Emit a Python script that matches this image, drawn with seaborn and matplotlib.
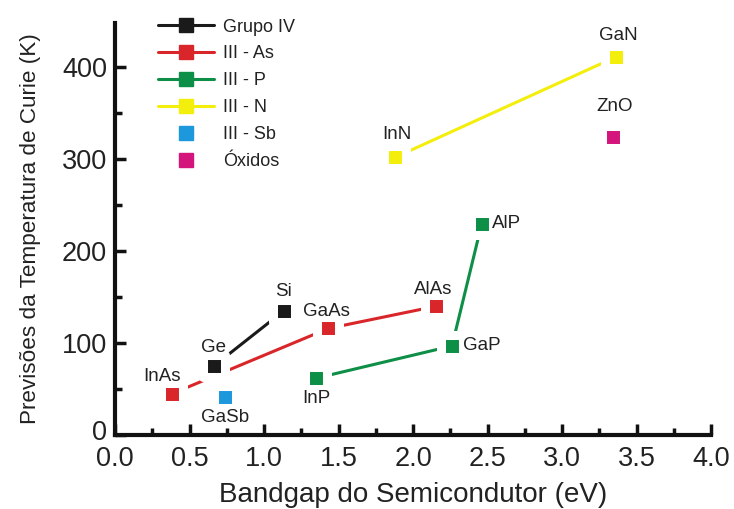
import numpy as np
import pandas as pd
import matplotlib
matplotlib.use('Agg')
import matplotlib.pyplot as plt
import matplotlib.transforms as mtransforms
import seaborn as sns
from matplotlib.lines import Line2D
from matplotlib.ticker import MultipleLocator

# data
materials = ['Ge', 'Si', 'InAs', 'GaAs', 'AlAs', 'InP', 'GaP', 'AlP', 'InN', 'GaN', 'GaSb', 'ZnO']
groups = ['Grupo IV', 'Grupo IV', 'III - As', 'III - As', 'III - As', 'III - P', 'III - P', 'III - P',
          'III - N', 'III - N', 'III - Sb', 'Óxidos']
bandgap = [0.66, 1.13, 0.38, 1.43, 2.15, 1.35, 2.26, 2.46, 1.88, 3.36, 0.74, 3.34]
curie = [75, 135, 45, 116, 140, 62, 97, 230, 302, 411, 42, 324]

group_order = ['Grupo IV', 'III - As', 'III - P', 'III - N', 'III - Sb', 'Óxidos']
group_colors = ['#1a1a1a', '#d9262a', '#0e8f47', '#f4ee0c', '#1e98dc', '#d4167c']
connected = ['Grupo IV', 'III - As', 'III - P', 'III - N']

df = pd.DataFrame({'material': materials, 'grupo': groups, 'eg': bandgap, 'tc': curie})

sns.set_style('ticks')
plt.rcParams['font.family'] = ['Liberation Sans', 'DejaVu Sans']

fig = plt.figure(figsize=(7.34, 5.09), dpi=100)
ax = fig.add_axes([0.157, 0.145, 0.812, 0.81])

palette = dict(zip(group_order, group_colors))
handles = []
for g in group_order:
    sub = df[df.grupo == g]
    if g in connected:
        sns.lineplot(data=sub, x='eg', y='tc', ax=ax, color=palette[g], lw=2.2,
                     sort=False, estimator=None, legend=False)
        h = Line2D([], [], color=palette[g], lw=2.2, marker='s', markersize=9.5)
    else:
        h = Line2D([], [], color=palette[g], lw=0, marker='s', markersize=9.5)
    # white edge leaves a small gap between line and marker, as in the original
    sns.scatterplot(data=sub, x='eg', y='tc', ax=ax, color=palette[g], marker='s',
                    s=250, edgecolor='white', linewidth=6.5, zorder=5, legend=False)
    handles.append(h)

# point labels (offsets in pixels)
offsets = {'InAs': (-10, 17, 'center'), 'Ge': (0, 19, 'center'), 'Si': (0, 19, 'center'),
           'GaSb': (0, -21, 'center'), 'GaAs': (-2, 17, 'center'), 'InP': (0, -20, 'center'),
           'AlAs': (-2, 17, 'center'), 'GaP': (11, 0, 'left'), 'AlP': (10, 0, 'left'),
           'InN': (2, 23, 'center'), 'GaN': (2, 21, 'center'), 'ZnO': (2, 31, 'center')}
for _, r in df.iterrows():
    dx, dy, ha = offsets[r.material]
    ax.annotate(r.material, (r.eg, r.tc), xytext=(dx, dy), textcoords='offset pixels',
                ha=ha, va='center', fontsize=13.5, color='#222222', zorder=6)

leg = ax.legend(handles, group_order, loc='upper left', bbox_to_anchor=(0.044, 1.05),
                frameon=False, fontsize=13, handlelength=3.1, labelspacing=0.55,
                handletextpad=0.5)
for t in leg.get_texts():
    t.set_color('#222222')

ax.set_xlim(0, 4.0)
ax.set_ylim(0, 448)
ax.xaxis.set_major_locator(MultipleLocator(0.5))
ax.xaxis.set_minor_locator(MultipleLocator(0.25))
ax.yaxis.set_major_locator(MultipleLocator(100))
ax.yaxis.set_minor_locator(MultipleLocator(50))
ax.xaxis.set_major_formatter(matplotlib.ticker.FormatStrFormatter('%.1f'))
ax.tick_params(which='both', direction='in', width=2.5, labelsize=19.5, color='#111111',
               labelcolor='#222222')
ax.tick_params(which='major', length=8)
ax.tick_params(axis='x', which='major', pad=8)
ax.tick_params(axis='y', which='major', pad=6)
ax.tick_params(which='minor', length=5)
for side in ['top', 'right']:
    ax.spines[side].set_visible(False)
for side in ['left', 'bottom']:
    ax.spines[side].set_linewidth(3)
    ax.spines[side].set_color('#111111')

ax.set_xlabel('Bandgap do Semicondutor (eV)', fontsize=20, labelpad=7, color='#222222')
ax.set_ylabel('Previsões da Temperatura de Curie (K)', fontsize=16.2, labelpad=15, color='#222222')

# lift the "0" y label a little so it clears the "0.0" below it
fig.canvas.draw()
zero_lbl = ax.yaxis.get_majorticklabels()[0]
for lbl in ax.yaxis.get_majorticklabels():
    if lbl.get_text() == '0':
        zero_lbl = lbl
zero_lbl.set_transform(zero_lbl.get_transform() +
                       mtransforms.ScaledTranslation(0, 4 / 72, fig.dpi_scale_trans))

fig.savefig('out.png', dpi=100)
